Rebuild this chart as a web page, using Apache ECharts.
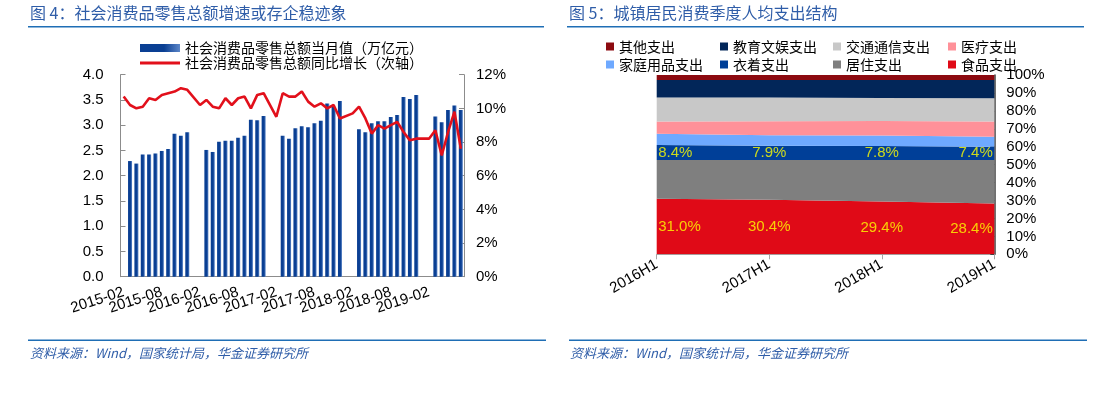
<!DOCTYPE html>
<html><head><meta charset="utf-8">
<script src="https://cdn.jsdelivr.net/npm/echarts@6/dist/echarts.min.js"></script>
<style>html,body{margin:0;padding:0;background:#fff}#c{width:1104px;height:395px}</style>
</head><body><div id="c"></div>
<script>
// ---------- Left chart data ----------
const months = [
 '2015-02','2015-03','2015-04','2015-05','2015-06','2015-07','2015-08','2015-09','2015-10','2015-11','2015-12',
 '2016-01','2016-02','2016-03','2016-04','2016-05','2016-06','2016-07','2016-08','2016-09','2016-10','2016-11','2016-12',
 '2017-01','2017-02','2017-03','2017-04','2017-05','2017-06','2017-07','2017-08','2017-09','2017-10','2017-11','2017-12',
 '2018-01','2018-02','2018-03','2018-04','2018-05','2018-06','2018-07','2018-08','2018-09','2018-10','2018-11','2018-12',
 '2019-01','2019-02','2019-03','2019-04','2019-05','2019-06','2019-07'
];
const monthTickLabels = ['2015-02','2015-08','2016-02','2016-08','2017-02','2017-08','2018-02','2018-08','2019-02'];
const retailMonthly = [
 null,2.29,2.24,2.42,2.42,2.44,2.49,2.53,2.83,2.79,2.86,
 null,null,2.51,2.47,2.67,2.69,2.69,2.75,2.79,3.11,3.10,3.18,
 null,null,2.79,2.73,2.94,2.98,2.96,3.04,3.09,3.43,3.36,3.48,
 null,null,2.92,2.86,3.04,3.08,3.08,3.16,3.20,3.56,3.52,3.60,
 null,null,3.17,3.06,3.30,3.39,3.30
];
const retailYoY = [
 10.7,10.2,10.0,10.1,10.6,10.5,10.8,10.9,11.0,11.2,11.1,
 null,10.2,10.5,10.1,10.0,10.6,10.2,10.6,10.7,10.0,10.8,10.9,
 null,9.5,10.9,10.7,10.7,11.0,10.4,10.1,10.3,10.0,10.2,9.4,
 null,9.7,10.1,9.4,8.5,9.0,8.8,9.0,9.2,8.6,8.1,8.2,
 null,8.2,8.7,7.2,8.6,9.8,7.6
];
const leftSeriesNames = ['社会消费品零售总额当月值（万亿元）','社会消费品零售总额同比增长（次轴）'];

// ---------- Right chart data ----------
const halfYears = ['2016H1','2017H1','2018H1','2019H1'];
const food      = [31.0,30.4,29.4,28.4];
const housing   = [21.6,22.2,23.2,24.2];
const clothing  = [8.4,7.9,7.8,7.4];
const household = [6.3,5.9,5.8,5.6];
const medical   = [6.7,7.8,8.1,8.4];
const transport = [13.5,13.2,12.9,13.0];
const education = [9.7,9.8,10.0,10.2];
const other     = [2.8,2.8,2.8,2.8];

const titles = ['图 4：社会消费品零售总额增速或存企稳迹象','图 5：城镇居民消费季度人均支出结构'];
const sourceText = '资料来源：Wind，国家统计局，华金证券研究所';

// ---------- styles ----------
const FONT = '"Liberation Sans", Arial, "Noto Sans CJK SC", sans-serif';
const BLUE_T = '#2F5DA8';
const RULE = '#1F6EB5';

const rightSeries = [
  {name:'食品支出', data:food, color:'#E00A17'},
  {name:'居住支出', data:housing, color:'#7F7F7F'},
  {name:'衣着支出', data:clothing, color:'#003F98'},
  {name:'家庭用品支出', data:household, color:'#6EA9FF'},
  {name:'医疗支出', data:medical, color:'#FF9199'},
  {name:'交通通信支出', data:transport, color:'#C8C8C8'},
  {name:'教育文娱支出', data:education, color:'#022659'},
  {name:'其他支出', data:other, color:'#8C0A10'}
];

// label anchors (middle of band) derived from data
function labelPoints(vals, base){
  return vals.map((v,i)=>{
    const mid = base[i] + v/2;
    let lab;
    if(i===0) lab = {position:'right', distance:1};
    else if(i===vals.length-1) lab = {position:'left', distance:1};
    else lab = {position:'inside'};
    return {value:[halfYears[i], mid], raw:v, label:lab};
  });
}
const zero = food.map(()=>0);
const clothBase = food.map((v,i)=>v+housing[i]);

const chart = echarts.init(document.getElementById('c'), null, {renderer:'canvas'});

const legendCols = [
  ['其他支出','家庭用品支出'],
  ['教育文娱支出','衣着支出'],
  ['交通通信支出','居住支出'],
  ['医疗支出','食品支出']
];
const colLefts = [606, 720, 833, 948];
const legendText = {fontSize:14, color:'#000', fontFamily:'"Noto Sans CJK SC"'};

const option = {
  backgroundColor:'#fff',
  animation:false,
  textStyle:{fontFamily:FONT},
  graphic:[
    {type:'text', left:30, top:5, style:{text:titles[0], font:'16px "Noto Sans CJK SC"', fill:BLUE_T}},
    {type:'text', left:569, top:5, style:{text:titles[1], font:'16px "Noto Sans CJK SC"', fill:BLUE_T}},
    {type:'rect', shape:{x:28, y:26, width:516, height:1.6}, style:{fill:RULE}},
    {type:'rect', shape:{x:567, y:26, width:517, height:1.6}, style:{fill:RULE}},
    {type:'rect', shape:{x:28, y:339.5, width:518, height:1.6}, style:{fill:RULE}},
    {type:'rect', shape:{x:569, y:339.5, width:518, height:1.6}, style:{fill:RULE}},
    {type:'text', left:30, top:347, style:{text:sourceText, font:'italic 13px "Noto Sans CJK SC"', fill:BLUE_T}},
    {type:'text', left:570, top:347, style:{text:sourceText, font:'italic 13px "Noto Sans CJK SC"', fill:BLUE_T}}
  ],
  legend:[
    {left:140, top:41, padding:0, itemWidth:40, itemHeight:8, icon:'rect',
     data:[leftSeriesNames[0]], textStyle:Object.assign({lineHeight:14}, legendText)},
    {left:140, top:56, padding:0, itemWidth:40, itemHeight:3, icon:'rect',
     data:[leftSeriesNames[1]], textStyle:Object.assign({lineHeight:14}, legendText)}
  ].concat(legendCols.map((c,k)=>({
     left:colLefts[k], top:39, padding:0, orient:'vertical', itemWidth:8, itemHeight:8, itemGap:3, icon:'rect',
     data:c, textStyle:Object.assign({lineHeight:15}, legendText)
  }))),
  grid:[
    {left:120.5, top:74.7, width:343.5, height:202, containLabel:false},
    {left:656.7, top:75, width:337.6, height:179.3, containLabel:false}
  ],
  xAxis:[
    {type:'category', gridIndex:0, data:months, boundaryGap:true,
     axisLine:{lineStyle:{color:'#8C8C8C'}},
     axisTick:{inside:true, interval:5, length:5, lineStyle:{color:'#8C8C8C'}},
     axisLabel:{interval:0, rotate:18, fontSize:15, color:'#000', margin:15,
                formatter:v=>monthTickLabels.indexOf(v)>=0 ? v : ''}},
    {type:'category', gridIndex:1, data:halfYears, boundaryGap:false,
     axisLine:{lineStyle:{color:'#A6A6A6'}},
     axisTick:{length:5, lineStyle:{color:'#A6A6A6'}},
     axisLabel:{rotate:30, fontSize:15, color:'#000', margin:9, showMinLabel:true, showMaxLabel:true}}
  ],
  yAxis:[
    {type:'value', gridIndex:0, min:0, max:4, interval:0.5, position:'left',
     axisLine:{show:true, lineStyle:{color:'#8C8C8C'}},
     axisTick:{show:true, inside:true, length:5, lineStyle:{color:'#8C8C8C'}},
     splitLine:{show:false},
     axisLabel:{fontSize:15, color:'#000', margin:17, formatter:v=>v.toFixed(1)}},
    {type:'value', gridIndex:0, min:0, max:12, interval:2, position:'right',
     axisLine:{show:true, lineStyle:{color:'#8C8C8C'}},
     axisTick:{show:true, inside:true, length:5, lineStyle:{color:'#8C8C8C'}},
     splitLine:{show:false},
     axisLabel:{fontSize:15, color:'#000', margin:12, formatter:'{value}%'}},
    {type:'value', gridIndex:1, min:0, max:100, interval:10, position:'right',
     axisLine:{show:true, lineStyle:{color:'#404040', width:1.5}},
     axisTick:{show:true, inside:true, length:4, lineStyle:{color:'#404040'}},
     splitLine:{show:false},
     axisLabel:{fontSize:15, color:'#000', margin:12, formatter:'{value}%'}}
  ],
  series:[
    {name:leftSeriesNames[0], type:'bar', xAxisIndex:0, yAxisIndex:0, data:retailMonthly,
     barWidth:4, itemStyle:{color:new echarts.graphic.LinearGradient(0,0,1,0,[
       {offset:0,color:'#0A3F93'},{offset:0.6,color:'#0A3F93'},{offset:1,color:'#5C86C8'}])}},
    {name:leftSeriesNames[1], type:'line', xAxisIndex:0, yAxisIndex:1, data:retailYoY,
     connectNulls:true, symbol:'none', lineStyle:{color:'#E2101B', width:2.6}, itemStyle:{color:'#E2101B'}}
  ].concat(rightSeries.map(s=>({
     name:s.name, type:'line', xAxisIndex:1, yAxisIndex:2, stack:'share', data:s.data,
     symbol:'none', lineStyle:{width:0}, itemStyle:{color:s.color},
     areaStyle:{color:s.color, opacity:1}
  }))).concat([
    {type:'scatter', xAxisIndex:1, yAxisIndex:2, z:20, symbolSize:1, itemStyle:{color:'rgba(0,0,0,0)'},
     data:labelPoints(food, zero), silent:true,
     label:{show:true, color:'#FFFF00', fontSize:15, formatter:p=>p.data.raw.toFixed(1)+'%'}},
    {type:'scatter', xAxisIndex:1, yAxisIndex:2, z:20, symbolSize:1, itemStyle:{color:'rgba(0,0,0,0)'},
     data:labelPoints(clothing, clothBase), silent:true,
     label:{show:true, color:'#FFFF00', fontSize:15, formatter:p=>p.data.raw.toFixed(1)+'%'}}
  ])
};
chart.setOption(option);
</script></body></html>
